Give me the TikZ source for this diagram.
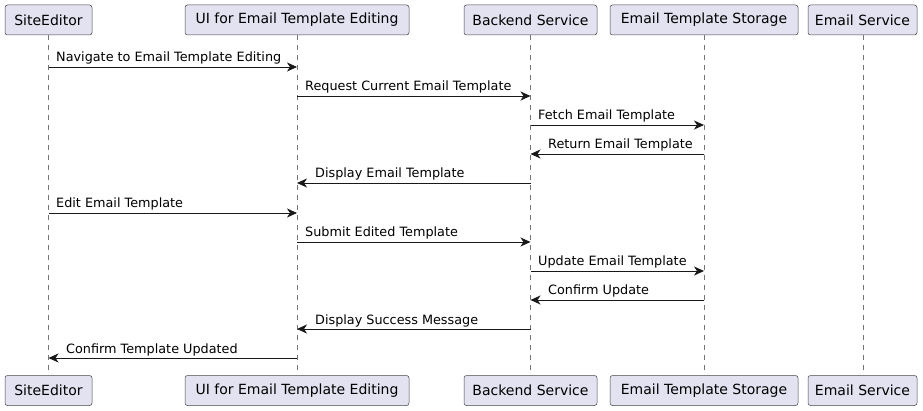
\documentclass[tikz,border=0pt]{standalone}
\usepackage{fontspec}
\setmainfont{DejaVu Sans}
\usepackage{xcolor}
\usepackage{tikz}
\usetikzlibrary{positioning,arrows.meta}

\definecolor{partfill}{HTML}{E2E2F0}
\definecolor{umlline}{HTML}{181818}

\tikzset{
  participant/.style={draw=umlline!80, fill=partfill, rounded corners=2.5pt, line width=0.5pt,
    minimum height=30pt, inner sep=0pt, font=\fontsize{14}{16}\selectfont},
  lifeline/.style={draw=umlline!60, dash pattern=on 5pt off 5pt, line width=0.6pt},
  msg/.style={draw=umlline, line width=0.8pt, -{Stealth[length=10pt,width=9pt,inset=3pt]}},
  msglabel/.style={inner sep=0pt, font=\fontsize{12.8}{15}\selectfont, anchor=base west}
}

\begin{document}
\begin{tikzpicture}[x=1pt, y=-1pt]
\useasboundingbox (0,0) rectangle (923,411);

% participants on top
\node[participant, minimum width=87pt]  (editor)  at (48.5,20)  {SiteEditor};
\node[participant, minimum width=224pt] (ui)      at (297,20)   {UI for Email Template Editing};
\node[participant, minimum width=133pt] (backend) at (530.5,20) {Backend Service};
\node[participant, minimum width=188pt] (storage) at (704,20)   {Email Template Storage};
\node[participant, minimum width=109pt] (mail)    at (862.5,20) {Email Service};

% participants at the bottom
\node[participant, minimum width=87pt]  (editorB)  at (48.5,390.5)  {SiteEditor};
\node[participant, minimum width=224pt] (uiB)      at (297,390.5)   {UI for Email Template Editing};
\node[participant, minimum width=133pt] (backendB) at (530.5,390.5) {Backend Service};
\node[participant, minimum width=188pt] (storageB) at (704,390.5)   {Email Template Storage};
\node[participant, minimum width=109pt] (mailB)    at (862.5,390.5) {Email Service};

% lifelines
\draw[lifeline] ([xshift=-0.5pt]editor.south) -- ([xshift=-0.5pt]editorB.north);
\draw[lifeline] (ui.south) -- (uiB.north);
\draw[lifeline] ([xshift=-0.5pt]backend.south) -- ([xshift=-0.5pt]backendB.north);
\draw[lifeline] (storage.south) -- (storageB.north);
\draw[lifeline] ([xshift=0.5pt]mail.south) -- ([xshift=0.5pt]mailB.north);

% messages
\draw[msg] (editor |- 0,67) -- (ui |- 0,67);
\node[msglabel] (m1) at (56,62) {Navigate to Email Template Editing};
\draw[msg] (ui |- 0,96) -- (backend |- 0,96);
\node[msglabel] (m2) at (305,91) {Request Current Email Template};
\draw[msg] (backend |- 0,125) -- (storage |- 0,125);
\node[msglabel] (m3) at (538,120) {Fetch Email Template};
\draw[msg] (storage |- 0,154) -- (backend |- 0,154);
\node[msglabel] (m4) at (548,149) {Return Email Template};
\draw[msg] (backend |- 0,183) -- (ui |- 0,183);
\node[msglabel] (m5) at (315,178) {Display Email Template};
\draw[msg] (editor |- 0,213) -- (ui |- 0,213);
\node[msglabel] (m6) at (56,208) {Edit Email Template};
\draw[msg] (ui |- 0,242) -- (backend |- 0,242);
\node[msglabel] (m7) at (305,237) {Submit Edited Template};
\draw[msg] (backend |- 0,271) -- (storage |- 0,271);
\node[msglabel] (m8) at (538,266) {Update Email Template};
\draw[msg] (storage |- 0,300) -- (backend |- 0,300);
\node[msglabel] (m9) at (548,295) {Confirm Update};
\draw[msg] (backend |- 0,329) -- (ui |- 0,329);
\node[msglabel] (m10) at (315,324) {Display Success Message};
\draw[msg] (ui |- 0,358) -- (editor |- 0,358);
\node[msglabel] (m11) at (66,353) {Confirm Template Updated};
\end{tikzpicture}
\end{document}
